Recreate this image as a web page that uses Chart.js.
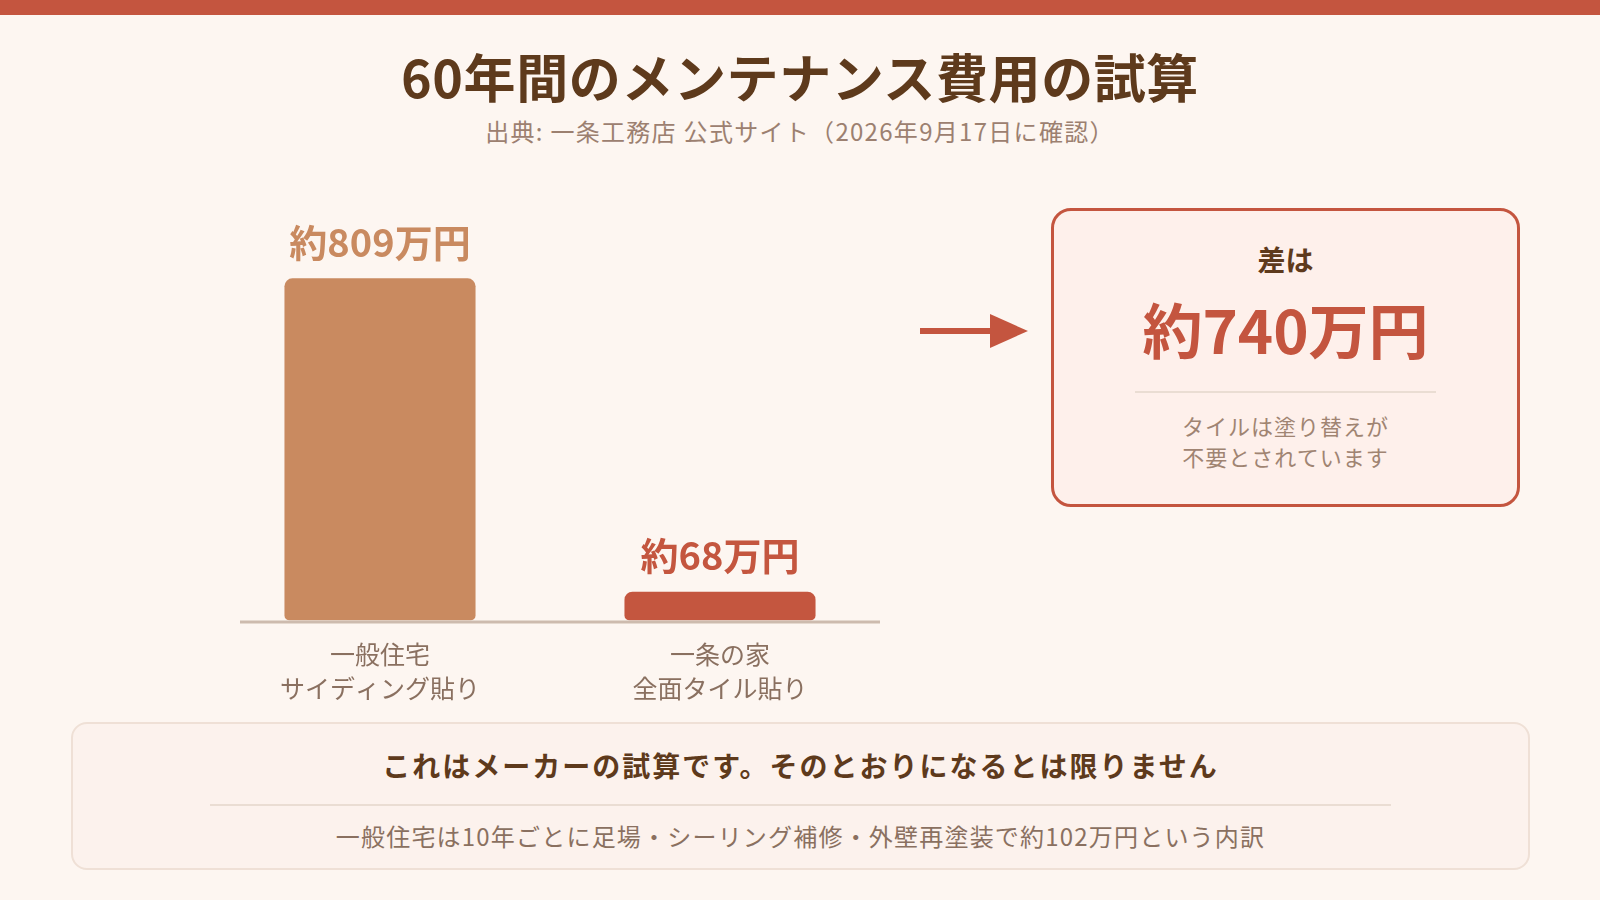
<!DOCTYPE html>
<html lang="ja">
<head>
<meta charset="UTF-8">
<title>60年間のメンテナンス費用の試算</title>
<style>
  html, body { margin: 0; padding: 0; }
  body {
    width: 1600px; height: 900px; overflow: hidden; position: relative;
    background: #fdf6f1;
    font-family: "Noto Sans CJK JP", "Noto Sans", sans-serif;
  }
  .topbar { position: absolute; left: 0; top: 0; width: 1600px; height: 15px; background: #c4553f; }
  .title {
    position: absolute; left: 0; top: 44px; width: 1600px; text-align: center;
    font-size: 52px; font-weight: 700; color: #5e3a1c; line-height: 64px; letter-spacing: 0.6px;
  }
  .subtitle {
    position: absolute; left: 0; top: 115px; width: 1600px; text-align: center;
    font-size: 24px; color: #9c8070; line-height: 32px; letter-spacing: 1.3px;
  }
  #chartWrap { position: absolute; left: 180px; top: 180px; width: 740px; height: 540px; }
  .arrow-shaft { position: absolute; left: 920px; top: 328px; width: 72px; height: 6px; background: #c4553f; }
  .arrow-head {
    position: absolute; left: 990px; top: 314px; width: 0; height: 0;
    border-top: 17px solid transparent; border-bottom: 17px solid transparent;
    border-left: 38px solid #c4553f;
  }
  .diff-box {
    position: absolute; left: 1051px; top: 208px; width: 463px; height: 293px;
    border: 3px solid #c4553f; border-radius: 20px; background: #fef0eb;
    text-align: center;
  }
  .diff-box .lead { position: absolute; left: 0; right: 0; top: 30px; font-size: 28px; font-weight: 700; color: #5e3a1c; line-height: 36px; }
  .diff-box .big { position: absolute; left: 0; right: 0; top: 79px; font-size: 60px; font-weight: 700; color: #c4553f; line-height: 76px; }
  .diff-box .rule { position: absolute; left: 81px; width: 301px; top: 180px; height: 2px; background: #eaddd3; }
  .diff-box .note { position: absolute; left: 0; right: 0; top: 199px; font-size: 22px; color: #a08472; line-height: 31px; letter-spacing: 1px; }
  .foot-box {
    position: absolute; left: 71px; top: 722px; width: 1455px; height: 144px;
    border: 2px solid #efe0d6; border-radius: 16px; background: #fcf2ed; text-align: center;
  }
  .foot-box .head { position: absolute; left: 0; right: 0; top: 21px; font-size: 28px; font-weight: 700; color: #5e3a1c; line-height: 40px; letter-spacing: 2px; }
  .foot-box .rule { position: absolute; left: 137px; right: 137px; top: 80px; height: 2px; background: #eaddd3; }
  .foot-box .sub { position: absolute; left: 0; right: 0; top: 95px; font-size: 24px; color: #8a7060; line-height: 34px; letter-spacing: 1.2px; }
</style>
</head>
<body>
  <div class="topbar"></div>
  <div class="title">60年間のメンテナンス費用の試算</div>
  <div class="subtitle">出典: 一条工務店 公式サイト（2026年9月17日に確認）</div>

  <div id="chartWrap"><canvas id="costChart"></canvas></div>

  <div class="arrow-shaft"></div>
  <div class="arrow-head"></div>

  <div class="diff-box">
    <div class="lead">差は</div>
    <div class="big">約740万円</div>
    <div class="rule"></div>
    <div class="note">タイルは塗り替えが<br>不要とされています</div>
  </div>

  <div class="foot-box">
    <div class="head">これはメーカーの試算です。そのとおりになるとは限りません</div>
    <div class="rule"></div>
    <div class="sub">一般住宅は10年ごとに足場・シーリング補修・外壁再塗装で約102万円という内訳</div>
  </div>

  <script src="https://cdn.jsdelivr.net/npm/chart.js"></script>
  <script>
    // データ（万円）
    const houseLabels = [['一般住宅', 'サイディング貼り'], ['一条の家', '全面タイル貼り']];
    const costValues = [809, 68];
    const valueLabels = ['約809万円', '約68万円'];
    const barColors = ['#c98a60', '#c4563f'];

    // 棒の上に金額を書く
    const valueLabelPlugin = {
      id: 'valueLabels',
      afterDatasetsDraw(chart) {
        const ctx = chart.ctx;
        const bars = chart.getDatasetMeta(0).data;
        ctx.save();
        ctx.font = '700 38px "Noto Sans CJK JP", sans-serif';
        ctx.textAlign = 'center';
        ctx.textBaseline = 'middle';
        bars.forEach((bar, i) => {
          ctx.fillStyle = barColors[i];
          ctx.fillText(valueLabels[i], bar.x, bar.y - 36);
        });
        ctx.restore();
      }
    };

    // 地面の線
    const baselinePlugin = {
      id: 'baseline',
      afterDatasetsDraw(chart) {
        const { ctx, chartArea, scales } = chart;
        const y0 = scales.y.getPixelForValue(0) + 1.5;
        ctx.save();
        ctx.strokeStyle = '#cdbbae';
        ctx.lineWidth = 3;
        ctx.beginPath();
        ctx.moveTo(chartArea.left + 30, y0);
        ctx.lineTo(chartArea.right - 10, y0);
        ctx.stroke();
        ctx.restore();
      }
    };

    new Chart(document.getElementById('costChart'), {
      type: 'bar',
      data: {
        labels: houseLabels,
        datasets: [{
          data: costValues,
          backgroundColor: barColors,
          borderRadius: { topLeft: 8, topRight: 8, bottomLeft: 5, bottomRight: 5 },
          borderSkipped: false,
          categoryPercentage: 1,
          barPercentage: 0.562
        }]
      },
      options: {
        responsive: true,
        maintainAspectRatio: false,
        animation: false,
        layout: { padding: { left: 30, right: 30, top: 17.5, bottom: 6 } },
        plugins: { legend: { display: false }, tooltip: { enabled: false } },
        scales: {
          x: {
            grid: { display: false },
            border: { display: false },
            ticks: {
              color: '#8a7060',
              padding: 9,
              font: { family: '"Noto Sans CJK JP", sans-serif', size: 25, lineHeight: 1.35 }
            }
          },
          y: {
            display: false,
            min: 0,
            max: 1000
          }
        }
      },
      plugins: [valueLabelPlugin, baselinePlugin]
    });
  </script>
</body>
</html>
